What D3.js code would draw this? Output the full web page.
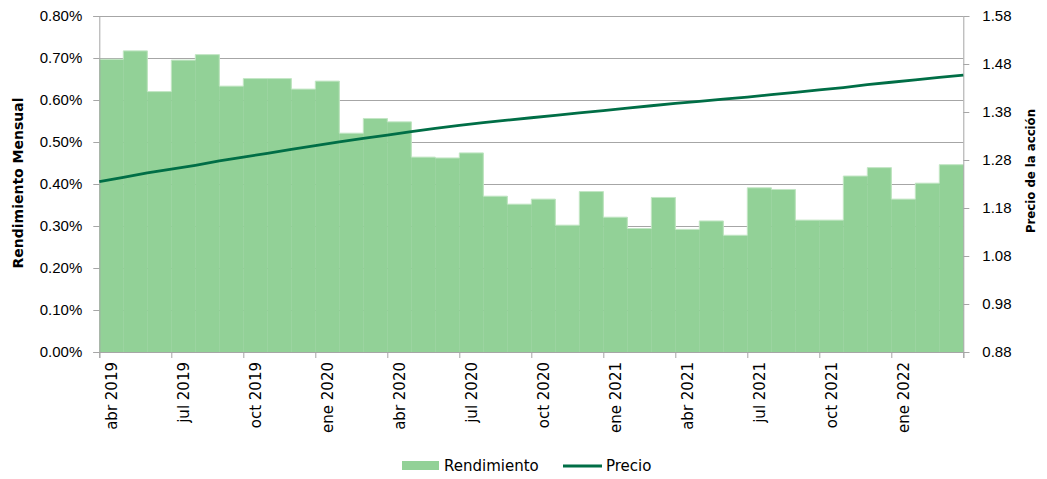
<!DOCTYPE html>
<meta charset="utf-8">
<style>
body { margin: 0; background: #fff; }
svg { display: block; font-family: "DejaVu Sans", sans-serif; }
.axisGray path, .axisGray line { stroke: #a6a6a6; }
.axisGray text { fill: #000; font-size: 15px; }
</style>
<script src="https://cdn.jsdelivr.net/npm/d3@7/dist/d3.min.js"></script>
<body>
<script>
const months = [
  'abr 2019','may 2019','jun 2019','jul 2019','ago 2019','sep 2019','oct 2019','nov 2019','dic 2019',
  'ene 2020','feb 2020','mar 2020','abr 2020','may 2020','jun 2020','jul 2020','ago 2020','sep 2020',
  'oct 2020','nov 2020','dic 2020','ene 2021','feb 2021','mar 2021','abr 2021','may 2021','jun 2021',
  'jul 2021','ago 2021','sep 2021','oct 2021','nov 2021','dic 2021','ene 2022','feb 2022','mar 2022'
];

// rendimiento mensual (%)
const rendimiento = [
  0.697, 0.717, 0.620, 0.695, 0.708, 0.633, 0.651, 0.651, 0.626,
  0.645, 0.521, 0.556, 0.548, 0.464, 0.462, 0.474, 0.371, 0.352,
  0.364, 0.302, 0.382, 0.321, 0.294, 0.368, 0.292, 0.312, 0.278,
  0.391, 0.387, 0.314, 0.314, 0.419, 0.439, 0.364, 0.402, 0.446
];

// precio de la acción al inicio de cada mes (+ cierre final)
const precio = [
  1.235, 1.244, 1.253, 1.261, 1.269, 1.278, 1.286, 1.294, 1.302,
  1.310, 1.318, 1.325, 1.332, 1.339, 1.346, 1.352, 1.358, 1.363,
  1.368, 1.373, 1.378, 1.383, 1.388, 1.393, 1.398, 1.402, 1.407,
  1.411, 1.416, 1.421, 1.426, 1.431, 1.437, 1.442, 1.447, 1.452, 1.457
];

const leftTicks = [0, 0.1, 0.2, 0.3, 0.4, 0.5, 0.6, 0.7, 0.8];
const rightTicks = [0.88, 0.98, 1.08, 1.18, 1.28, 1.38, 1.48, 1.58];

const W = 1047, H = 479;
const x0 = 99.3, x1 = 963.3, yTop = 16, yBot = 352;

const svg = d3.select('body').append('svg')
  .attr('width', W)
  .attr('height', H);

const xBand = d3.scaleBand().domain(months).range([x0, x1]).padding(0);
const xIdx = d3.scaleLinear().domain([0, months.length]).range([x0, x1]);
const yL = d3.scaleLinear().domain([0, 0.8]).range([yBot, yTop]);
const yR = d3.scaleLinear().domain([0.88, 1.58]).range([yBot, yTop]);

// gridlines
svg.append('g')
  .selectAll('line')
  .data(leftTicks.slice(1))
  .join('line')
    .attr('x1', x0).attr('x2', x1)
    .attr('y1', d => Math.round(yL(d)) + 0.5)
    .attr('y2', d => Math.round(yL(d)) + 0.5)
    .attr('stroke', '#a6a6a6')
    .attr('stroke-width', 1);

// bars
svg.append('g')
  .selectAll('rect')
  .data(rendimiento)
  .join('rect')
    .attr('x', (d, i) => xBand(months[i]))
    .attr('width', xBand.bandwidth() + 0.4)
    .attr('y', d => yL(d))
    .attr('height', d => yBot - yL(d))
    .attr('fill', '#92d197');

// light outline on the step
const stepData = rendimiento.map((d, i) => [i, d]).concat([[months.length, rendimiento[rendimiento.length - 1]]]);
svg.append('path')
  .datum(stepData)
  .attr('fill', 'none')
  .attr('stroke', '#c3e6c5')
  .attr('stroke-width', 1)
  .attr('d', d3.line().x(d => xIdx(d[0])).y(d => yL(d[1])).curve(d3.curveStepAfter));

// left axis
svg.append('g')
  .attr('class', 'axisGray')
  .attr('transform', `translate(${x0}, 0)`)
  .call(d3.axisLeft(yL).tickValues(leftTicks).tickSize(6).tickPadding(11)
    .tickFormat(d => d3.format('.2f')(d) + '%'));

// right axis
svg.append('g')
  .attr('class', 'axisGray')
  .attr('transform', `translate(${x1}, 0)`)
  .call(d3.axisRight(yR).tickValues(rightTicks).tickSize(6).tickPadding(13)
    .tickFormat(d3.format('.2f')));

// bottom ticks
svg.append('g')
  .attr('class', 'axisGray')
  .attr('transform', `translate(0, ${yBot})`)
  .call(d3.axisBottom(xIdx).tickValues(d3.range(0, months.length + 1, 3)).tickSize(6).tickFormat(''));

// bottom labels at band centres
svg.append('g')
  .selectAll('text')
  .data(months.filter((d, i) => i % 3 === 0))
  .join('text')
    .attr('transform', d => `translate(${xBand(d) + xBand.bandwidth() / 2}, 362) rotate(-90)`)
    .attr('text-anchor', 'end')
    .attr('dy', '0.36em')
    .style('font-size', '15px')
    .text(d => d);

// precio line
svg.append('path')
  .datum(precio)
  .attr('fill', 'none')
  .attr('stroke', '#006e46')
  .attr('stroke-width', 2.8)
  .attr('d', d3.line().x((d, i) => xIdx(i)).y(d => yR(d)));

// axis titles
svg.append('text')
  .attr('transform', 'translate(18, 183) rotate(-90)')
  .attr('text-anchor', 'middle')
  .attr('dy', '0.36em')
  .style('font-size', '14px')
  .style('font-weight', 'bold')
  .text('Rendimiento Mensual');

svg.append('text')
  .attr('transform', 'translate(1030, 171) rotate(-90)')
  .attr('text-anchor', 'middle')
  .attr('dy', '0.36em')
  .attr('textLength', 124)
  .attr('lengthAdjust', 'spacingAndGlyphs')
  .style('font-size', '13px')
  .style('font-weight', 'bold')
  .text('Precio de la acción');

// legend
const legend = svg.append('g');
legend.append('rect')
  .attr('x', 402).attr('y', 461)
  .attr('width', 37).attr('height', 9)
  .attr('fill', '#92d197');
legend.append('text')
  .attr('x', 444).attr('y', 471)
  .style('font-size', '15px')
  .text('Rendimiento');
legend.append('line')
  .attr('x1', 563).attr('x2', 602)
  .attr('y1', 466).attr('y2', 466)
  .attr('stroke', '#006e46')
  .attr('stroke-width', 2.8);
legend.append('text')
  .attr('x', 606).attr('y', 471)
  .style('font-size', '15px')
  .text('Precio');
</script>
</body>
